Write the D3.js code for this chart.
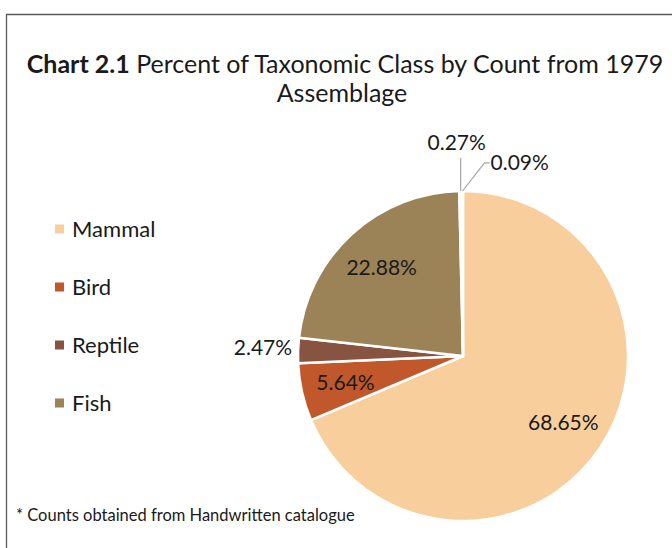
<!DOCTYPE html>
<html>
<head>
<meta charset="utf-8">
<script src="https://cdn.jsdelivr.net/npm/d3@7"></script>
<style>
  html, body { margin: 0; padding: 0; background: #fff; }
  svg { display: block; }
  text { font-family: Lato, "Noto Sans", sans-serif; fill: #1a1a1a; }
</style>
</head>
<body>
<svg id="chart" width="672" height="548"></svg>
<script>
// ---- data ----
const categories = ["Mammal", "Bird", "Reptile", "Fish", "Amphibian", "Other"];
const values = [68.65, 5.64, 2.47, 22.88, 0.27, 0.09];
const labels = ["68.65%", "5.64%", "2.47%", "22.88%", "0.27%", "0.09%"];
const colors = ["#F7CE9C", "#C0582C", "#865440", "#9B8257", "#F4E6D2", "#F4E6D2"];
const legendItems = ["Mammal", "Bird", "Reptile", "Fish"];
const titleBold = "Chart 2.1";
const titleRest = " Percent of Taxonomic Class by Count from 1979";
const titleLine2 = "Assemblage";
const footnote = "* Counts obtained from Handwritten catalogue";

// ---- layout ----
const svg = d3.select("#chart");
const cx = 463, cy = 356, R = 165;

// frame
svg.append("path")
  .attr("d", "M6.5,548 L6.5,14.5 L672,14.5")
  .attr("fill", "none").attr("stroke", "#5a5a5a").attr("stroke-width", 1.3);

// title
const t1 = svg.append("text").attr("x", 345).attr("y", 73)
  .attr("text-anchor", "middle").style("font-size", "25px");
t1.append("tspan").attr("font-weight", "bold").text(titleBold);
t1.append("tspan").text(titleRest);
svg.append("text").attr("x", 342).attr("y", 102)
  .attr("text-anchor", "middle").style("font-size", "25px").text(titleLine2);

// pie
const data = categories.map((c, i) => ({ name: c, value: values[i], label: labels[i], color: colors[i] }));
const pie = d3.pie().sort(null).value(d => d.value);
const arcs = pie(data);
const arc = d3.arc().innerRadius(0).outerRadius(R);
const g = svg.append("g").attr("transform", `translate(${cx},${cy})`);

g.selectAll("path.slice").data(arcs).enter().append("path")
  .attr("class", "slice")
  .attr("d", arc)
  .attr("fill", d => d.data.color)
  .attr("stroke", "#fff").attr("stroke-width", 2.5).attr("stroke-linejoin", "round");

// labels
const inner = d3.arc().innerRadius(R * 0.73).outerRadius(R * 0.73);
const big = arcs.filter(d => d.data.value >= 5);
g.selectAll("text.in").data(big).enter().append("text")
  .attr("class", "in")
  .attr("x", d => inner.centroid(d)[0])
  .attr("y", d => inner.centroid(d)[1])
  .attr("dy", "0.35em")
  .attr("text-anchor", "middle")
  .style("font-size", "21px")
  .text(d => d.data.label);

const mid = d => (d.startAngle + d.endAngle) / 2;
const edge = (d, r) => [Math.sin(mid(d)) * r, -Math.cos(mid(d)) * r];

// reptile: outside, no leader
const rep = arcs[2];
const pr = edge(rep, R + 6);
g.append("text").attr("x", pr[0]).attr("y", pr[1] - 3)
  .attr("dy", "0.35em").attr("text-anchor", "end")
  .style("font-size", "21px").text(rep.data.label);

// tiny slices with leader lines
const a1 = arcs[4];
const e1 = edge(a1, R);
g.append("polyline")
  .attr("points", [[e1[0], e1[1]], [e1[0], -R * 1.2]].map(p => p.join(",")).join(" "))
  .attr("fill", "none").attr("stroke", "#a6a6a6").attr("stroke-width", 1.2);
g.append("text").attr("x", e1[0] - 4).attr("y", -R * 1.2 - 8)
  .attr("text-anchor", "middle").style("font-size", "21px").text(a1.data.label);

const a2 = arcs[5];
const e2 = edge(a2, R);
const k2 = [e2[0] + 22, -R * 1.17];
g.append("polyline")
  .attr("points", [[e2[0], e2[1]], k2, [k2[0] + 5, k2[1]]].map(p => p.join(",")).join(" "))
  .attr("fill", "none").attr("stroke", "#a6a6a6").attr("stroke-width", 1.2);
g.append("text").attr("x", k2[0] + 6).attr("y", k2[1])
  .attr("dy", "0.35em").attr("text-anchor", "start")
  .style("font-size", "21px").text(a2.data.label);

// legend
const lg = svg.append("g").attr("transform", "translate(55,229)");
legendItems.forEach((name, i) => {
  const row = lg.append("g").attr("transform", `translate(0,${i * 58})`);
  row.append("rect").attr("x", 0).attr("y", -4.5).attr("width", 9).attr("height", 9)
    .attr("fill", colors[categories.indexOf(name)]);
  row.append("text").attr("x", 17).attr("y", 0).attr("dy", "0.35em")
    .style("font-size", "22px").text(name);
});

// footnote
svg.append("text").attr("x", 16).attr("y", 521)
  .style("font-size", "16.5px").text(footnote);
</script>
</body>
</html>
